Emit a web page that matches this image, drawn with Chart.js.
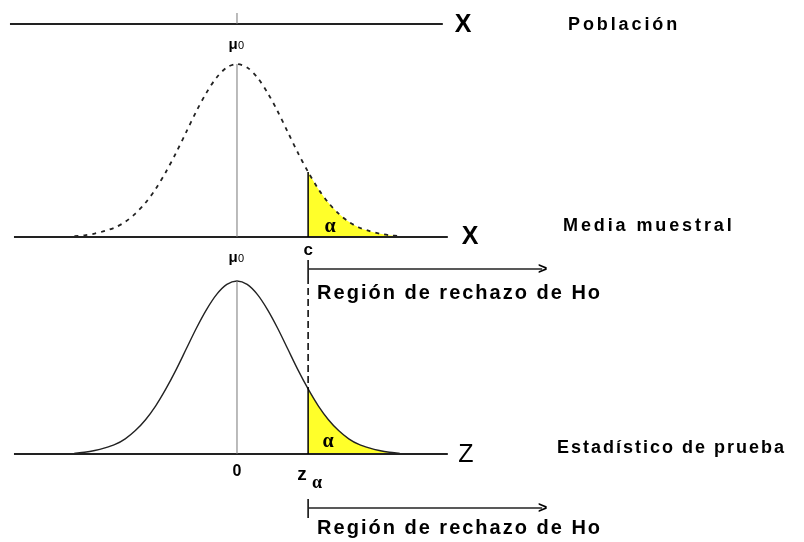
<!DOCTYPE html>
<html>
<head>
<meta charset="utf-8">
<script src="https://cdn.jsdelivr.net/npm/chart.js@4.4.1/dist/chart.umd.min.js"></script>
<style>
  body { margin: 0; background: #fff; }
  canvas { display: block; }
</style>
</head>
<body>
<canvas id="testChart" width="804" height="542"></canvas>
<script>
// values (standard units, relative density)
const zValues = [-3.2, -3.0, -2.8, -2.6, -2.4, -2.2, -2.0, -1.8, -1.6, -1.4, -1.2, -1.0, -0.8, -0.6, -0.4, -0.2,
                 0, 0.2, 0.4, 0.6, 0.8, 1.0, 1.2, 1.4, 1.6, 1.8, 2.0, 2.2, 2.4, 2.6, 2.8, 3.0, 3.2];
const density = [0.002, 0.004, 0.008, 0.014, 0.022, 0.035, 0.054, 0.079, 0.111, 0.150, 0.194, 0.242, 0.290, 0.333, 0.368, 0.391,
                 0.399, 0.391, 0.368, 0.333, 0.290, 0.242, 0.194, 0.150, 0.111, 0.079, 0.054, 0.035, 0.022, 0.014, 0.008, 0.004, 0.002];
const zAlpha = 1.4;   // critical value c / z_alpha
const axisNames = ['X', 'X', 'Z'];
const rowLabels = ['Población', 'Media muestral', 'Estadístico de prueba'];
const rejectLabel = 'Región de rechazo de Ho';

const curvePts = zValues.map((z, i) => ({ x: z, y: density[i] }));
const tailPts = curvePts.filter(p => p.x >= zAlpha);
const densAlpha = density[zValues.indexOf(zAlpha)];

// helper for text with letter spacing
function txt(ctx, s, x, y, font, align, spacing) {
  ctx.save();
  ctx.font = font;
  ctx.fillStyle = '#000';
  ctx.textAlign = align || 'left';
  ctx.textBaseline = 'middle';
  ctx.letterSpacing = (spacing || 0) + 'px';
  ctx.fillText(s, x, y);
  ctx.restore();
}

function line(ctx, x1, y1, x2, y2, color, width, dash) {
  ctx.save();
  ctx.beginPath();
  ctx.strokeStyle = color || '#000';
  ctx.lineWidth = width || 1;
  ctx.setLineDash(dash || []);
  ctx.moveTo(x1, y1);
  ctx.lineTo(x2, y2);
  ctx.stroke();
  ctx.restore();
}

// draws the axes, guide lines and labels on top of the curves
const diagramPlugin = {
  id: 'diagram',
  afterDatasetsDraw(chart) {
    const ctx = chart.ctx;
    const xs = chart.scales.x, yT = chart.scales.yTop, yB = chart.scales.yBot;
    const x0 = xs.getPixelForValue(0);
    const xc = xs.getPixelForValue(zAlpha);
    const baseT = yT.getPixelForValue(0);
    const baseB = yB.getPixelForValue(0);
    const peakT = yT.getPixelForValue(density[zValues.indexOf(0)]);
    const peakB = yB.getPixelForValue(density[zValues.indexOf(0)]);
    const popY = baseT - 213;
    const left = xs.getPixelForValue(-4.39), right = xs.getPixelForValue(4.15);
    const bold = '"Liberation Sans", Arial, sans-serif';

    //for the population axis
    line(ctx, left - 4, popY, right - 5, popY, '#222', 2);
    line(ctx, x0, popY - 11, x0, popY, '#777', 1);
    txt(ctx, axisNames[0], x0 + 226, popY + 1, 'bold 25px ' + bold, 'center');
    txt(ctx, rowLabels[0], 568, popY + 1, 'bold 18px ' + bold, 'left', 2.9);
    txt(ctx, 'μ', x0 - 4, popY + 21, 'bold 15px ' + bold, 'center');
    txt(ctx, '0', x0 + 4, popY + 22, '11px ' + bold, 'center');

    //for the sample mean axis
    line(ctx, left, baseT, right, baseT, '#222', 2);
    line(ctx, x0, peakT, x0, baseT, '#777', 1);
    line(ctx, xc, yT.getPixelForValue(densAlpha), xc, baseT, '#000', 1.5);
    txt(ctx, axisNames[1], x0 + 233, baseT, 'bold 25px ' + bold, 'center');
    txt(ctx, rowLabels[1], 563, baseT - 11, 'bold 18px ' + bold, 'left', 2.9);
    txt(ctx, 'α', xc + 22, baseT - 10, 'bold 20px "Liberation Serif", serif', 'center');
    txt(ctx, 'c', xc, baseT + 13, 'bold 17px ' + bold, 'center');
    txt(ctx, 'μ', x0 - 4, baseT + 21, 'bold 15px ' + bold, 'center');
    txt(ctx, '0', x0 + 4, baseT + 22, '11px ' + bold, 'center');

    //first rejection arrow
    const a1 = baseT + 32;
    line(ctx, xc, a1 - 9, xc, a1 + 8, '#000', 1.5);
    line(ctx, xc, a1, xc + 234, a1, '#222', 1.5);
    txt(ctx, '>', xc + 230, a1 + 1, 'bold 16px ' + bold, 'left');
    txt(ctx, rejectLabel, xc + 9, a1 + 24, 'bold 20px ' + bold, 'left', 2);

    //dashed link between the two panels
    const curveB = yB.getPixelForValue(densAlpha);
    line(ctx, xc, a1 + 8, xc, curveB, '#000', 1.5, [7, 4]);

    //for the test statistic axis
    line(ctx, left, baseB, right, baseB, '#222', 2);
    line(ctx, x0, peakB, x0, baseB, '#777', 1);
    line(ctx, xc, curveB, xc, baseB, '#000', 1.5);
    txt(ctx, axisNames[2], x0 + 229, baseB + 1, '25px ' + bold, 'center');
    txt(ctx, rowLabels[2], 557, baseB - 6, 'bold 18px ' + bold, 'left', 2.0);
    txt(ctx, 'α', xc + 20, baseB - 12, 'bold 20px "Liberation Serif", serif', 'center');
    txt(ctx, '0', x0, baseB + 18, 'bold 16px ' + bold, 'center');
    txt(ctx, 'z', xc - 6, baseB + 21, 'bold 19px ' + bold, 'center');
    txt(ctx, 'α', xc + 9, baseB + 29, 'bold 18px "Liberation Serif", serif', 'center');

    //second rejection arrow
    const a2 = baseB + 54;
    line(ctx, xc, a2 - 9, xc, a2 + 10, '#000', 1.5);
    line(ctx, xc, a2, xc + 234, a2, '#222', 1.5);
    txt(ctx, '>', xc + 230, a2 + 1, 'bold 16px ' + bold, 'left');
    txt(ctx, rejectLabel, xc + 9, a2 + 21, 'bold 20px ' + bold, 'left', 2);
  }
};

const ctx1 = document.getElementById('testChart').getContext('2d');

new Chart(ctx1, {
  type: 'line',
  data: {
    datasets: [
      {
        label: 'media muestral',
        data: curvePts,
        yAxisID: 'yTop',
        borderColor: '#222',
        borderWidth: 1.8,
        borderDash: [4, 5],
        pointRadius: 0,
        tension: 0.3,
        fill: false,
        order: 1
      },
      {
        label: 'alpha media',
        data: tailPts,
        yAxisID: 'yTop',
        borderWidth: 0,
        backgroundColor: '#ffff2a',
        pointRadius: 0,
        tension: 0.3,
        fill: 'origin',
        order: 2
      },
      {
        label: 'estadistico',
        data: curvePts,
        yAxisID: 'yBot',
        borderColor: '#222',
        borderWidth: 1.4,
        pointRadius: 0,
        tension: 0.3,
        fill: false,
        order: 1
      },
      {
        label: 'alpha z',
        data: tailPts,
        yAxisID: 'yBot',
        borderWidth: 0,
        backgroundColor: '#ffff2a',
        pointRadius: 0,
        tension: 0.3,
        fill: 'origin',
        order: 2
      }
    ]
  },
  options: {
    responsive: false,
    animation: false,
    devicePixelRatio: 1,
    layout: { padding: 0 },
    scales: {
      x: { type: 'linear', display: false, min: -4.665, max: 11.161 },
      yTop: { type: 'linear', display: false, min: -0.7034, max: 0.5466 },
      yBot: { type: 'linear', display: false, min: -0.203, max: 1.047 }
    },
    plugins: {
      legend: { display: false },
      tooltip: { enabled: false }
    }
  },
  plugins: [diagramPlugin]
});
</script>
</body>
</html>
